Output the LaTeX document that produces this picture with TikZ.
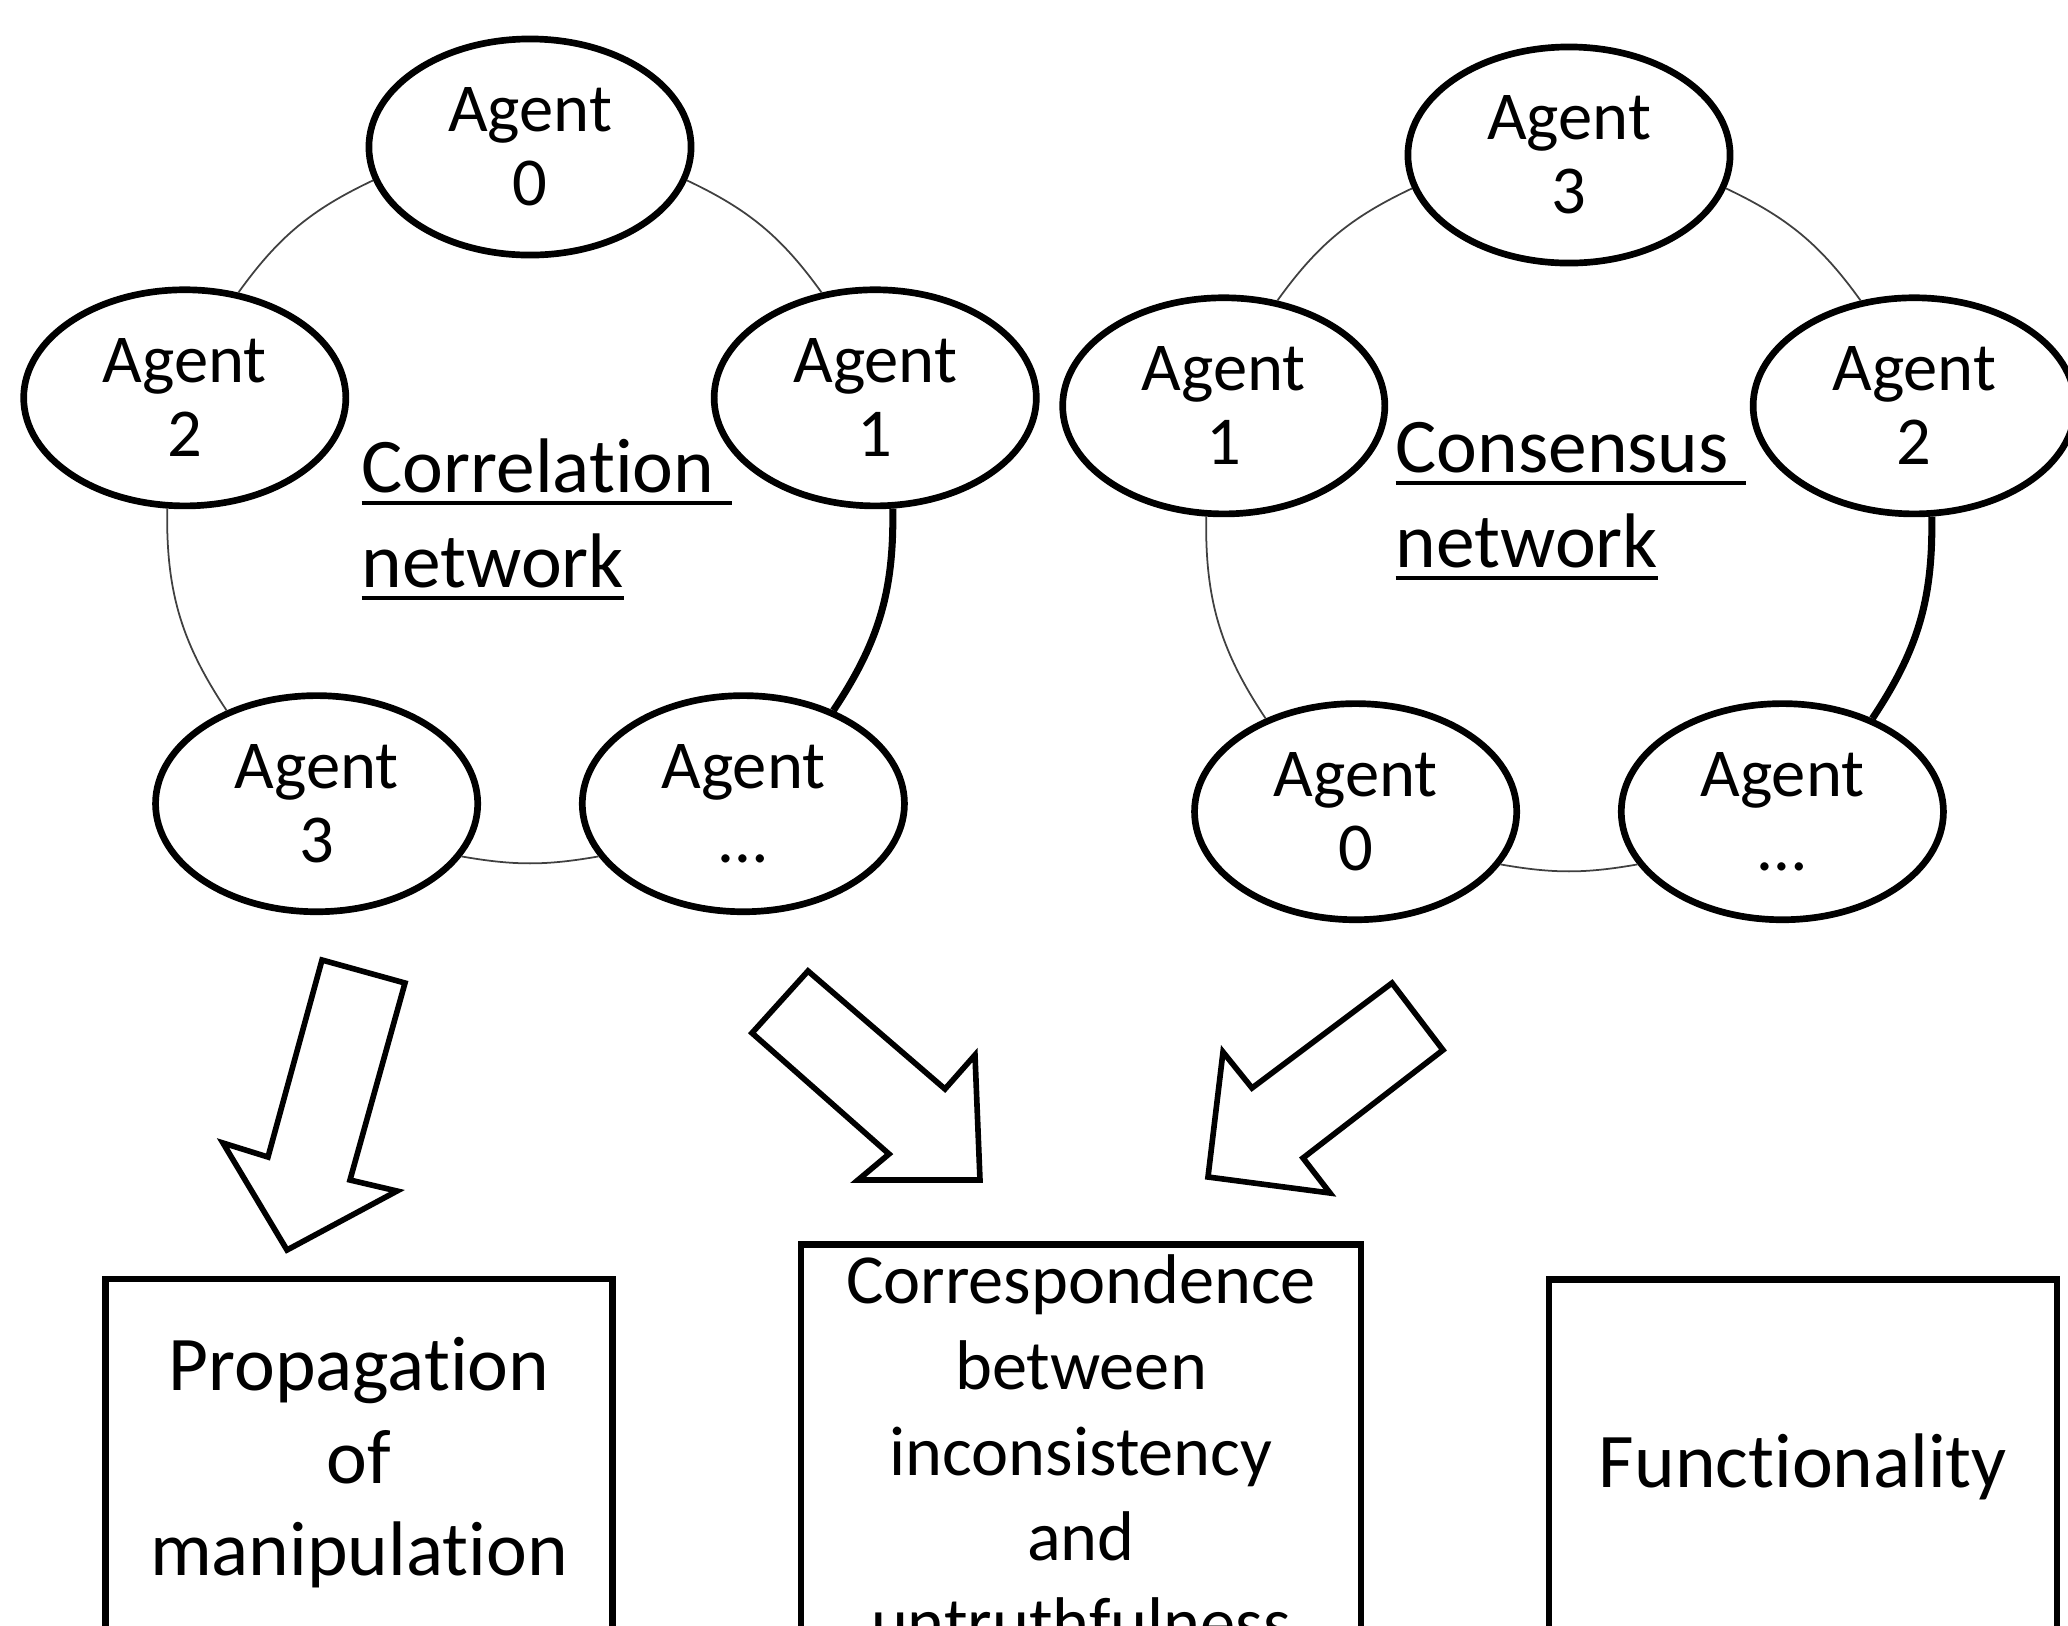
\documentclass[tikz,border=0pt]{standalone}
\usepackage{fontspec}
\setmainfont[Ligatures=NoCommon]{Carlito}
\usetikzlibrary{shapes, arrows.meta, positioning}

% underline drawn as a rule under the word
\newcommand{\netul}[1]{\setbox0\hbox{#1}\rlap{\rule[-3.6pt]{\wd0}{1.1pt}}\box0}

\begin{document}
\begin{tikzpicture}[x=0.01cm, y=0.01cm,
    agent/.style={ellipse, draw, line width=1.9pt, minimum width=3.22cm,
      minimum height=2.16cm, inner sep=0pt, align=center,
      font=\fontsize{19.5}{21}\selectfont},
    link/.style={draw=black!75, line width=0.5pt},
    strong/.style={draw=black, line width=2pt},
    netlabel/.style={align=left, inner sep=0pt, font=\fontsize{22}{27}\selectfont},
    result/.style={draw, line width=1.8pt, align=center, inner sep=0pt},
    fatarrow/.style={draw, line width=1.6pt, line join=miter, fill=white}]
  \clip (0,0) rectangle (2068,-1626);

  % Correlation network
  \foreach \a/\i/\n in {90/0/cor0, 18/1/cor1, 162/2/cor2, 234/3/cor3, 306/{\ldots}/cor4} {
    \path (530,-510) ++(\a:363) node[agent] (\n) {Agent\\\i};
  }
  \draw[link] (cor0.192) to[bend right=14.5] (cor2.63);
  \draw[link] (cor2.261) to[bend right=17.3] (cor3.134);
  \draw[link] (cor3.340) to[bend right=10] (cor4.200);
  \draw[strong] (cor4.46) to[bend right=17.3] (cor1.279);
  \draw[link] (cor1.117) to[bend right=14.5] (cor0.348);
  \node[netlabel, anchor=base west] (corlabel) at (361,-587)
    {\netul{Correlation\ }\\\netul{network}};

  % Consensus network
  \foreach \a/\i/\n in {90/3/con3, 162/1/con1, 18/2/con2, 234/0/con0, 306/{\ldots}/con4} {
    \path (1569,-518) ++(\a:363) node[agent] (\n) {Agent\\\i};
  }
  \draw[link] (con3.192) to[bend right=14.5] (con1.63);
  \draw[link] (con1.261) to[bend right=17.3] (con0.134);
  \draw[link] (con0.340) to[bend right=10] (con4.200);
  \draw[strong] (con4.46) to[bend right=17.3] (con2.279);
  \draw[link] (con2.117) to[bend right=14.5] (con3.348);
  \node[netlabel, anchor=base west] (conlabel) at (1395,-567)
    {\netul{Consensus\ }\\\netul{network}};

  % Block arrows
  \draw[fatarrow] (322,-960) -- (405,-983) -- (350,-1180) -- (397,-1191)
    -- (287,-1250) -- (223,-1143) -- (268,-1157) -- cycle;
  \draw[fatarrow] (808,-971) -- (945,-1089) -- (975,-1055) -- (980,-1180)
    -- (858,-1180) -- (889,-1154) -- (752,-1033) -- cycle;
  \draw[fatarrow] (1392,-983) -- (1443,-1050) -- (1303,-1158) -- (1330,-1193)
    -- (1208,-1177) -- (1223,-1052) -- (1252,-1088) -- cycle;

  % Results
  \node[result, minimum width=5.07cm, minimum height=3.68cm,
    font=\fontsize{22}{26.3}\selectfont] (propagation) at (359,-1463)
    {Propagation\\of\\manipulation};
  \node[result, minimum width=5.6cm, minimum height=4.13cm,
    font=\fontsize{20}{24.4}\selectfont] (correspondence) at (1081,-1451)
    {Correspondence\\between\\inconsistency\\and\\untruthfulness};
  \node[result, minimum width=5.08cm, minimum height=3.75cm,
    font=\fontsize{22}{26.3}\selectfont] (functionality) at (1803,-1467)
    {Functionality};
\end{tikzpicture}
\end{document}
